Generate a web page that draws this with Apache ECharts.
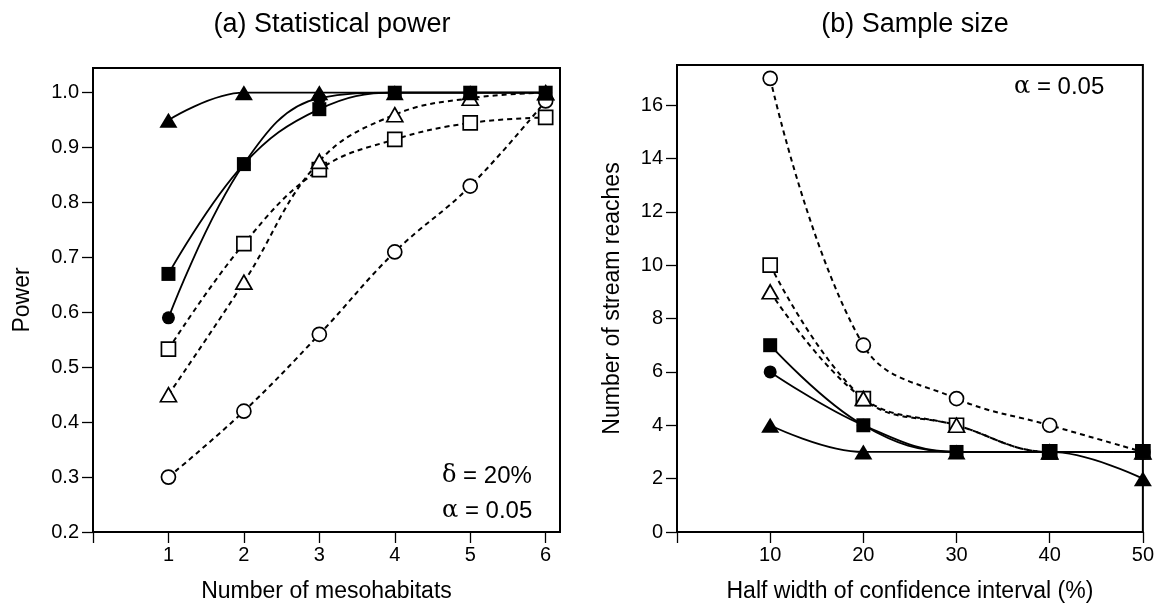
<!DOCTYPE html>
<html>
<head>
<meta charset="utf-8">
<script src="https://cdn.jsdelivr.net/npm/echarts@6/dist/echarts.min.js"></script>
<style>
html,body{margin:0;padding:0;background:#fff;}
#chart{width:1157px;height:613px;}
</style>
</head>
<body>
<div id="chart"></div>
<script>
// ---- data: (a) Statistical power ----
const powerX = [1, 2, 3, 4, 5, 6];
const powerFilledTriangle = [0.95, 1.0, 1.0, 1.0, 1.0, 1.0];
const powerFilledSquare   = [0.67, 0.87, 0.97, 1.0, 1.0, 1.0];
const powerFilledCircle   = [0.59, 0.87, 0.99, 1.0, 1.0, 1.0];
const powerOpenTriangle   = [0.45, 0.655, 0.875, 0.96, 0.99, 1.0];
const powerOpenSquare     = [0.533, 0.725, 0.86, 0.915, 0.945, 0.955];
const powerOpenCircle     = [0.30, 0.42, 0.56, 0.71, 0.83, 0.985];
const powerXTicks = [0, 1, 2, 3, 4, 5, 6];
const powerXLabels = [1, 2, 3, 4, 5, 6];
const powerYTicks = [0.2, 0.3, 0.4, 0.5, 0.6, 0.7, 0.8, 0.9, 1.0];

// ---- data: (b) Sample size ----
const ciX = [10, 20, 30, 40, 50];
const sizeFilledTriangle = [4, 3, 3, 3, 2];
const sizeFilledSquare   = [7, 4, 3, 3, 3];
const sizeFilledCircle   = [6, 4, 3, 3, 3];
const sizeOpenTriangle   = [9, 5, 4, 3, 3];
const sizeOpenSquare     = [10, 5, 4, 3, 3];
const sizeOpenCircle     = [17, 7, 5, 4, 3];
const ciXTicks = [0, 10, 20, 30, 40, 50];
const ciXLabels = [10, 20, 30, 40, 50];
const sizeYTicks = [0, 2, 4, 6, 8, 10, 12, 14, 16];

const FONT = '"Liberation Sans", Arial, sans-serif';
const TICK_FS = 20, NAME_FS = 23, TITLE_FS = 27, NOTE_FS = 24;
const zip = (xs, ys) => xs.map((x, i) => [x, ys[i]]);

function mkSeries(idx, xs, ys, symbol, filled, dashed, size) {
  return {
    type: 'line',
    xAxisIndex: idx, yAxisIndex: idx,
    data: zip(xs, ys),
    smooth: 0.4,
    symbol: symbol,
    symbolSize: size,
    showAllSymbol: true,
    lineStyle: { color: '#000', width: dashed ? 2 : 1.8, type: dashed ? [5, 4] : 'solid' },
    itemStyle: { color: filled ? '#000' : '#fff', borderColor: '#000', borderWidth: filled ? 0 : 1.7, opacity: 1 },
    emphasis: { disabled: true },
    animation: false,
    z: filled ? 3 : 2
  };
}

function mkAxis(extra, ticks, labels, margin, fmt) {
  const ax = {
    type: 'value',
    axisLine: { show: true, onZero: false, lineStyle: { color: '#000', width: 2 } },
    axisTick: { show: true, inside: false, length: 11, customValues: ticks, lineStyle: { color: '#000', width: 1.3 } },
    axisLabel: { color: '#000', fontSize: TICK_FS, fontFamily: FONT, margin: margin, customValues: labels },
    splitLine: { show: false },
    nameLocation: 'middle',
    nameTextStyle: { color: '#000', fontSize: NAME_FS, fontFamily: FONT }
  };
  if (fmt) ax.axisLabel.formatter = fmt;
  return Object.assign(ax, extra);
}

const chart = echarts.init(document.getElementById('chart'), null, { renderer: 'canvas' });

const noteRich = { g: { fontFamily: '"DejaVu Serif", serif', fontSize: NOTE_FS, fill: '#000' } };

const option = {
  backgroundColor: '#fff',
  animation: false,
  title: [
    { text: '(a) Statistical power', left: 327, top: 6, textAlign: 'center',
      textStyle: { fontSize: TITLE_FS, fontWeight: 'normal', color: '#000', fontFamily: FONT } },
    { text: '(b) Sample size', left: 910, top: 6, textAlign: 'center',
      textStyle: { fontSize: TITLE_FS, fontWeight: 'normal', color: '#000', fontFamily: FONT } }
  ],
  grid: [
    { left: 93, top: 68, width: 467, height: 464, show: true, borderColor: '#000', borderWidth: 2, backgroundColor: 'transparent' },
    { left: 677, top: 65, width: 467, height: 467, show: true, borderColor: '#000', borderWidth: 2, backgroundColor: 'transparent' }
  ],
  xAxis: [
    mkAxis({ gridIndex: 0, min: 0, max: 6.19, name: 'Number of mesohabitats', nameGap: 48 }, powerXTicks, powerXLabels, 13),
    mkAxis({ gridIndex: 1, min: 0, max: 50, name: 'Half width of confidence interval (%)', nameGap: 48 }, ciXTicks, ciXLabels, 13)
  ],
  yAxis: [
    mkAxis({ gridIndex: 0, min: 0.2, max: 1.045, name: 'Power', nameGap: 59 }, powerYTicks, powerYTicks, 14,
      v => Number(v).toFixed(1)),
    mkAxis({ gridIndex: 1, min: 0, max: 17.5, name: 'Number of stream reaches', nameGap: 53 }, sizeYTicks, sizeYTicks, 14)
  ],
  graphic: [
    { type: 'text', left: 442, top: 464, z: 10,
      style: { text: '{g|δ} = 20%', fill: '#000', font: NOTE_FS + 'px ' + FONT, rich: noteRich } },
    { type: 'text', left: 442, top: 499, z: 10,
      style: { text: '{g|α} = 0.05', fill: '#000', font: NOTE_FS + 'px ' + FONT, rich: noteRich } },
    { type: 'text', left: 1014, top: 75, z: 10,
      style: { text: '{g|α} = 0.05', fill: '#000', font: NOTE_FS + 'px ' + FONT, rich: noteRich } }
  ],
  series: [
    mkSeries(0, powerX, powerOpenCircle, 'circle', false, true, 14),
    mkSeries(0, powerX, powerOpenSquare, 'rect', false, true, 14),
    mkSeries(0, powerX, powerOpenTriangle, 'triangle', false, true, [16, 14]),
    mkSeries(0, powerX, powerFilledCircle, 'circle', true, false, 13),
    mkSeries(0, powerX, powerFilledTriangle, 'triangle', true, false, [18, 15]),
    mkSeries(0, powerX, powerFilledSquare, 'rect', true, false, 14),

    mkSeries(1, ciX, sizeOpenCircle, 'circle', false, true, 14),
    mkSeries(1, ciX, sizeOpenSquare, 'rect', false, true, 14),
    mkSeries(1, ciX, sizeOpenTriangle, 'triangle', false, true, [16, 14]),
    mkSeries(1, ciX, sizeFilledCircle, 'circle', true, false, 13),
    mkSeries(1, ciX, sizeFilledTriangle, 'triangle', true, false, [18, 15]),
    mkSeries(1, ciX, sizeFilledSquare, 'rect', true, false, 14)
  ]
};
chart.setOption(option);
</script>
</body>
</html>
